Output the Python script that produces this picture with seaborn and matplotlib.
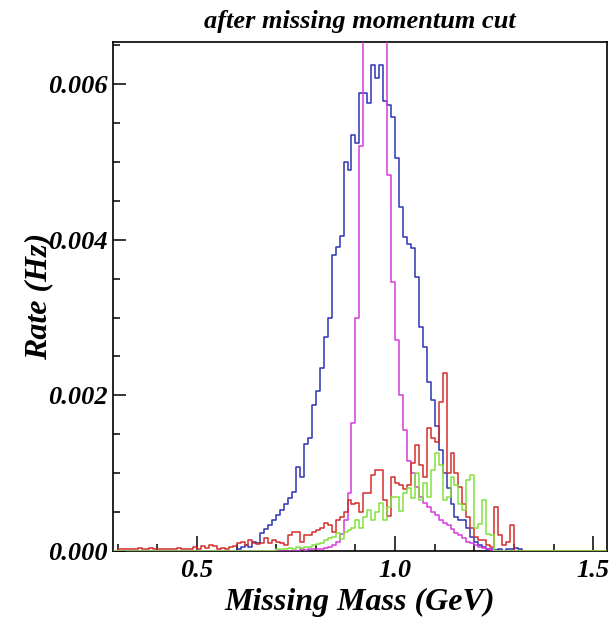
import numpy as np
import pandas as pd
import matplotlib
matplotlib.use("Agg")
import matplotlib.pyplot as plt
import seaborn as sns
from matplotlib.ticker import MultipleLocator, FormatStrFormatter

# Histogram binning (GeV)
bin_width = 0.01
x_lo, x_hi = 0.28, 1.54

# Rates per 0.01 GeV bin (Hz); each series starts at its own first bin
blue_start = 0.60
blue = [0.00003, 0.00005, 0.00008, 0.00005, 0.00012, 0.00010, 0.00023, 0.00028, 0.00033, 0.00040,
        0.00046, 0.00053, 0.00060, 0.00068, 0.00076, 0.00108, 0.00095, 0.00138, 0.00145, 0.00187,
        0.00206, 0.00235, 0.00275, 0.00300, 0.00380, 0.00390, 0.00405, 0.00500, 0.00490, 0.00534,
        0.00524, 0.00588, 0.00588, 0.00575, 0.00624, 0.00608, 0.00624, 0.00578, 0.00573, 0.00557,
        0.00505, 0.00442, 0.00403, 0.00395, 0.00389, 0.00352, 0.00288, 0.00262, 0.00217, 0.00194,
        0.00160, 0.00130, 0.00100, 0.00081, 0.00060, 0.00044, 0.00040, 0.00040, 0.00030, 0.00018,
        0.00012, 0.00008, 0.00005, 0.00002, 0.00003, 0.00001, 0.00003, 0.00000, 0.00002, 0.00003,
        0.00004, 0.00003]

magenta_start = 0.76
magenta = [0.00002, 0.00001, 0.00002, 0.00002, 0.00003, 0.00002, 0.00004, 0.00005, 0.00008, 0.00012,
           0.00022, 0.00040, 0.00075, 0.00164, 0.00300, 0.00520, 0.00850, 0.01050, 0.01180, 0.01120,
           0.00980, 0.00780, 0.00483, 0.00345, 0.00271, 0.00200, 0.00155, 0.00115, 0.00100, 0.00082,
           0.00070, 0.00062, 0.00057, 0.00050, 0.00046, 0.00040, 0.00036, 0.00033, 0.00028, 0.00023,
           0.00020, 0.00017, 0.00012, 0.00010, 0.00008, 0.00005, 0.00004, 0.00002, 0.00001]

red_start = 0.30
red = [0.00002, 0.00003, 0.00002, 0.00003, 0.00002, 0.00004, 0.00003, 0.00002, 0.00004, 0.00003,
       0.00003, 0.00002, 0.00003, 0.00003, 0.00002, 0.00004, 0.00003, 0.00002, 0.00003, 0.00005,
       0.00003, 0.00006, 0.00004, 0.00008, 0.00007, 0.00003, 0.00004, 0.00003, 0.00005, 0.00006,
       0.00010, 0.00012, 0.00008, 0.00014, 0.00010, 0.00009, 0.00010, 0.00017, 0.00010, 0.00014,
       0.00012, 0.00010, 0.00008, 0.00020, 0.00025, 0.00025, 0.00012, 0.00020, 0.00020, 0.00025,
       0.00027, 0.00030, 0.00036, 0.00034, 0.00025, 0.00040, 0.00044, 0.00050, 0.00065, 0.00060,
       0.00062, 0.00050, 0.00074, 0.00074, 0.00098, 0.00104, 0.00104, 0.00065, 0.00045, 0.00095,
       0.00087, 0.00085, 0.00080, 0.00085, 0.00113, 0.00136, 0.00110, 0.00095, 0.00158, 0.00145,
       0.00140, 0.00191, 0.00229, 0.00100, 0.00126, 0.00100, 0.00082, 0.00060, 0.00044, 0.00030,
       0.00018, 0.00014, 0.00014, 0.00008, 0.00005, 0.00057, 0.00020, 0.00008, 0.00012, 0.00033]

green_start = 0.70
green = [0.00002, 0.00003, 0.00002, 0.00004, 0.00003, 0.00005, 0.00004, 0.00005, 0.00005, 0.00008,
         0.00009, 0.00010, 0.00014, 0.00017, 0.00018, 0.00023, 0.00015, 0.00025, 0.00027, 0.00030,
         0.00040, 0.00030, 0.00044, 0.00053, 0.00040, 0.00050, 0.00062, 0.00040, 0.00057, 0.00070,
         0.00070, 0.00052, 0.00074, 0.00081, 0.00068, 0.00100, 0.00065, 0.00087, 0.00070, 0.00104,
         0.00126, 0.00110, 0.00065, 0.00070, 0.00095, 0.00085, 0.00060, 0.00053, 0.00091, 0.00098,
         0.00030, 0.00035, 0.00065, 0.00022, 0.00020]

series = [("blue", blue_start, blue, "#2b34b4"),
          ("magenta", magenta_start, magenta, "#d53cdb"),
          ("red", red_start, red, "#d42c2c"),
          ("green", green_start, green, "#82e23e")]

n_bins = int(round((x_hi - x_lo) / bin_width))
centers = np.round(x_lo + bin_width / 2 + bin_width * np.arange(n_bins), 3)

plt.rcParams["font.family"] = ["Liberation Serif", "DejaVu Serif"]
fig = plt.figure(figsize=(6.15, 6.26), dpi=100)
ax = fig.add_axes([113 / 615, 1 - 551 / 626, 494 / 615, 509 / 626])

for name, start, vals, col in series:
    # put each series on the common bin grid (empty bins -> 0)
    s = pd.Series(vals, index=np.round(start + bin_width / 2 + bin_width * np.arange(len(vals)), 3))
    df = pd.DataFrame({"mass": centers, "rate": s.reindex(centers, fill_value=0.0).values})
    sns.histplot(data=df, x="mass", weights="rate", bins=n_bins, binrange=(x_lo, x_hi),
                 element="step", fill=False, color=col, linewidth=1.1, zorder=3, ax=ax)

ax.set_xlim(0.288, 1.535)
ax.set_ylim(0, 0.00654)
ax.xaxis.set_major_locator(MultipleLocator(0.5))
ax.xaxis.set_minor_locator(MultipleLocator(0.1))
ax.yaxis.set_major_locator(MultipleLocator(0.002))
ax.yaxis.set_minor_locator(MultipleLocator(0.0005))
ax.xaxis.set_major_formatter(FormatStrFormatter("%.1f"))
ax.yaxis.set_major_formatter(FormatStrFormatter("%.3f"))

tick_font = dict(family="Liberation Serif", weight="bold", style="italic", size=19)
ax.tick_params(axis="both", which="both", direction="in", colors="black", width=1.1)
ax.tick_params(axis="x", which="major", length=11, pad=6)
ax.tick_params(axis="x", which="minor", length=5)
ax.tick_params(axis="y", which="major", length=9, pad=4)
ax.tick_params(axis="y", which="minor", length=5)
for lab in ax.get_xticklabels() + ax.get_yticklabels():
    lab.set_fontproperties(tick_font)
for sp in ax.spines.values():
    sp.set_linewidth(1.2)
    sp.set_color("black")

ax.set_xlabel("Missing Mass (GeV)", fontsize=23, fontweight="bold", fontstyle="italic")
ax.set_ylabel("Rate (Hz)", fontsize=23, fontweight="bold", fontstyle="italic")
ax.xaxis.set_label_coords(0.5, -0.073)
ax.yaxis.set_label_coords(-0.121, 0.5)
ax.set_title("after missing momentum cut", fontsize=19, fontweight="bold", fontstyle="italic", pad=10)

fig.savefig("out.png", dpi=100)
